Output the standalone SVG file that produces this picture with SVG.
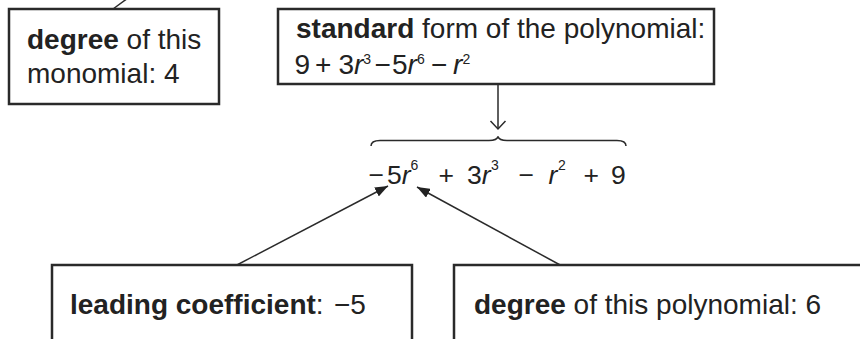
<svg xmlns="http://www.w3.org/2000/svg" width="860" height="339" viewBox="0 0 860 339">
<style>
.box{fill:#fff;stroke:#2a2a2a;stroke-width:2.5}
.t{font-family:"Liberation Sans",Arial,sans-serif;font-size:28px;fill:#222}
.m{font-family:"Liberation Sans",Arial,sans-serif;font-size:26.5px;fill:#222}
.s{font-family:"Liberation Sans",Arial,sans-serif;font-size:14px;fill:#222}
.b{font-weight:bold}
.i{font-style:italic}
.ln{stroke:#2a2a2a;stroke-width:1.5;fill:none}
</style>
<defs>
<marker id="ah" markerUnits="userSpaceOnUse" markerWidth="14" markerHeight="10" refX="13" refY="5" orient="auto">
<path d="M0,0 L13,5 L0,10 z" fill="#222"/>
</marker>
</defs>
<rect width="860" height="339" fill="#fff"/>
<g id="connectors">
<line class="ln" x1="113" y1="9" x2="128" y2="-2"/>
<line class="ln" x1="498" y1="84" x2="498" y2="129"/>
<polyline class="ln" points="490.5,121 498,129 505.5,121"/>
<path class="ln" d="M371,146 Q371,140.5 380,140.5 L489,140.5 Q497,140.5 498,136.5 Q499,140.5 507,140.5 L617,140.5 Q626,140.5 626,146"/>
<line class="ln" x1="235" y1="266" x2="388" y2="186" marker-end="url(#ah)"/>
<line class="ln" x1="562" y1="266" x2="417" y2="187" marker-end="url(#ah)"/>
</g>
<g id="degree-monomial">
<rect class="box" x="9" y="9" width="210" height="95"/>
<text class="t" x="27" y="49"><tspan class="b">degree</tspan> of this</text>
<text class="t" x="27" y="83">monomial: 4</text>
</g>
<g id="standard-form">
<rect class="box" x="278" y="9" width="436" height="75"/>
<text class="t" x="296" y="38"><tspan class="b">standard</tspan> form of the polynomial:</text>
<text class="t" x="294.5" y="74">9</text>
<text class="t" x="315" y="74">+</text>
<text class="t" x="338.5" y="74">3</text>
<text class="t i" x="354" y="74">r</text>
<text class="s" x="363.3" y="64">3</text>
<text class="t" x="374.5" y="74">−</text>
<text class="t" x="392" y="74">5</text>
<text class="t i" x="407.6" y="74">r</text>
<text class="s" x="417" y="64">6</text>
<text class="t" x="431" y="74">−</text>
<text class="t i" x="453" y="74">r</text>
<text class="s" x="462.5" y="64">2</text>
</g>
<g id="expression">
<text class="m" x="368.5" y="184">−</text>
<text class="m" x="387" y="184">5</text>
<text class="m i" x="401.7" y="184">r</text>
<text class="s" x="410.5" y="170">6</text>
<text class="m" x="438.5" y="184">+</text>
<text class="m" x="467" y="184">3</text>
<text class="m i" x="481.7" y="184">r</text>
<text class="s" x="491" y="170">3</text>
<text class="m" x="518.5" y="184">−</text>
<text class="m i" x="548.5" y="184">r</text>
<text class="s" x="558" y="170">2</text>
<text class="m" x="583.5" y="184">+</text>
<text class="m" x="611" y="184">9</text>
</g>
<g id="leading-coefficient">
<rect class="box" x="52" y="265" width="360" height="100"/>
<text class="t" x="70" y="314"><tspan class="b">leading coefficient</tspan>:<tspan x="334">−5</tspan></text>
</g>
<g id="degree-polynomial">
<rect class="box" x="454" y="265" width="430" height="100"/>
<text class="t" x="474" y="314"><tspan class="b">degree</tspan> of this polynomial: 6</text>
</g>
</svg>
